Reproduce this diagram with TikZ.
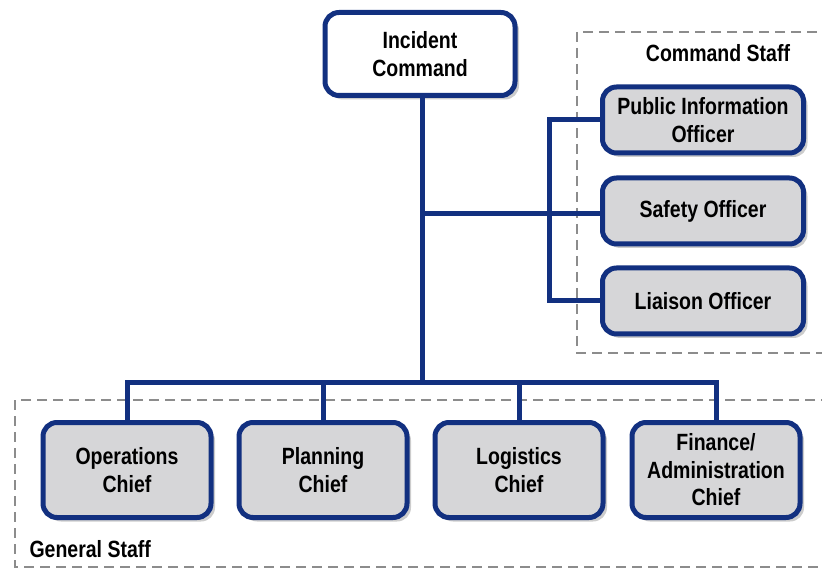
\documentclass[tikz,border=0pt]{standalone}
\usepackage{fontspec}
\setmainfont{Liberation Sans}[FakeStretch=0.83]
\usetikzlibrary{positioning,shadows}
\definecolor{navy}{RGB}{18,48,128}
\definecolor{boxgray}{RGB}{214,214,216}
\definecolor{dashgray}{RGB}{140,140,140}

\begin{document}
\begin{tikzpicture}[
    x=1pt, y=-1pt,
    every node/.style={font=\bfseries\fontsize{23.5}{27.5}\selectfont, align=center},
    unit/.style={draw=navy, line width=5pt, rounded corners=14pt, fill=boxgray,
        drop shadow={shadow xshift=4pt, shadow yshift=-4pt, opacity=0.4}},
    command/.style={unit, minimum width=201pt, minimum height=66pt},
    general/.style={unit, minimum width=168pt, minimum height=95pt},
    link/.style={draw=navy, line width=5pt},
    staff/.style={draw=dashgray, line width=2pt, dash pattern=on 10pt off 6pt}
]
\useasboundingbox (0,0) rectangle (822,569);
\draw[staff] (577,32) rectangle (840,353);
\draw[staff] (15,400) rectangle (840,567);
\node (cmdlabel) at (718,53) {Command Staff};
\node[anchor=west] (genlabel) at (26,549) {General Staff};

\node[unit, fill=white, minimum width=190pt, minimum height=83pt] (ic) at (420,54) {Incident\\Command};
\node[command] (pio) at (703,120) {Public Information\\Officer};
\node[command] (safe) at (703,211) {Safety Officer};
\node[command] (lia) at (703,301) {Liaison Officer};
\node[general] (ops) at (127,470) {Operations\\Chief};
\node[general] (plan) at (323,470) {Planning\\Chief};
\node[general] (log) at (519,470) {Logistics\\Chief};
\node[general] (fin) at (716,470) {Finance/\\Administration\\Chief};

\coordinate (bus) at (422,382);
\coordinate (spine) at (549,214);
\draw[link] (ic.south -| bus) -- (bus);
\draw[link] (bus |- spine) -- (safe.west |- spine);
\draw[link] (pio.west) -| (spine) |- (lia.west);
\draw[link] (ops.north) |- (bus) -| (fin.north);
\draw[link] (plan.north) -- (plan.north |- bus);
\draw[link] (log.north) -- (log.north |- bus);
\end{tikzpicture}
\end{document}
